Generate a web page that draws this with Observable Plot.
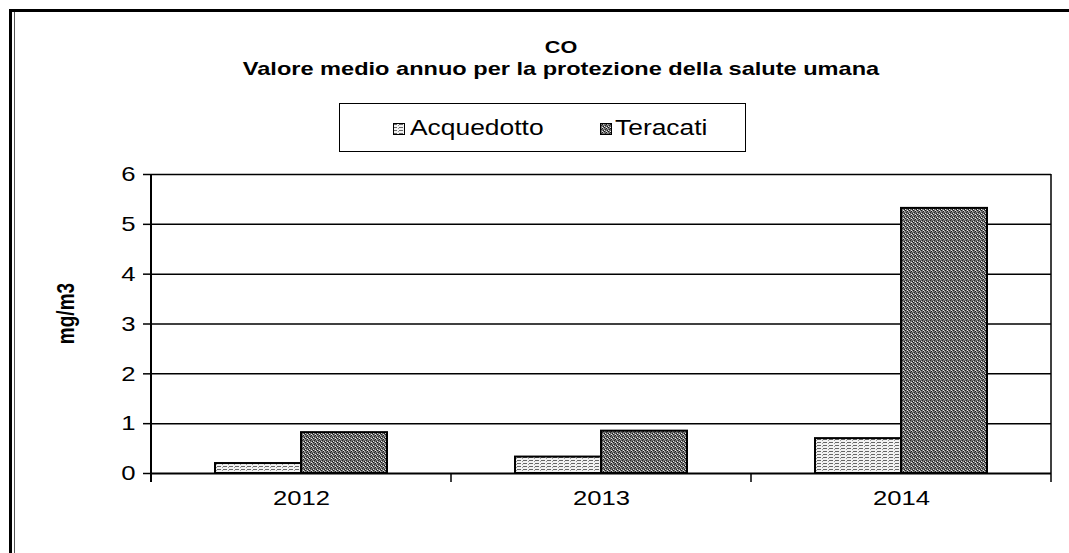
<!DOCTYPE html>
<html><head><meta charset="utf-8">
<script src="https://cdn.jsdelivr.net/npm/d3@7"></script>
<script src="https://cdn.jsdelivr.net/npm/@observablehq/plot@0.6"></script>
<style>
body{margin:0;background:#fff;}
#wrap{position:relative;width:1069px;height:553px;overflow:hidden;font-family:"Liberation Sans",Arial,sans-serif;color:#000;background:#fff;}
.t{position:absolute;white-space:nowrap;line-height:1;}
.c{left:0;width:1122px;text-align:center;transform-origin:50% 0;}
#legend{position:absolute;left:339px;top:103px;width:405px;height:47px;border:1.5px solid #000;background:#fff;}
.sw{position:absolute;top:19px;width:12px;height:12px;}
.lt{position:absolute;top:13px;font-size:22px;line-height:1;white-space:nowrap;transform:scaleX(1.2);transform-origin:0 0;}
#chart{position:absolute;left:0;top:150px;}
</style></head><body>
<div id="wrap">
  <svg width="0" height="0" style="position:absolute">
    <defs>
      <pattern id="patT" width="4" height="4" patternUnits="userSpaceOnUse">
        <rect width="4" height="4" fill="#707070"/>
        <rect x="0" y="0" width="1" height="1" fill="#1a1a1a"/>
        <rect x="2" y="1" width="1" height="1" fill="#1a1a1a"/>
        <rect x="1" y="2" width="1" height="1" fill="#2a2a2a"/>
        <rect x="3" y="3" width="1" height="1" fill="#1a1a1a"/>
        <rect x="2" y="0" width="1" height="1" fill="#eaeaea"/>
        <rect x="0" y="3" width="1" height="1" fill="#e2e2e2"/>
        <rect x="3" y="1" width="1" height="1" fill="#b8b8b8"/>
      </pattern>
      <pattern id="patA" width="6" height="3" patternUnits="userSpaceOnUse">
        <rect width="6" height="3" fill="#f2f2f2"/>
        <rect x="0" y="1" width="4" height="1" fill="#666"/>
        <rect x="5" y="2" width="1" height="1" fill="#999"/>
      </pattern>
    </defs>
  </svg>
  <div style="position:absolute;left:9px;top:9px;width:1060px;height:3px;background:#000"></div>
  <div style="position:absolute;left:9px;top:9px;width:3px;height:544px;background:#000"></div>
  <div style="position:absolute;left:14px;top:12px;width:1px;height:541px;background:#555"></div>
  <div class="t c" id="title" style="top:40px;font-size:16px;font-weight:bold;transform:scaleX(1.35);">CO</div>
  <div class="t c" id="subtitle" style="top:59px;font-size:19px;font-weight:bold;transform:scaleX(1.24);">Valore medio annuo per la protezione della salute umana</div>
  <div id="legend"></div>
  <div class="t" id="ylabel" style="left:66px;top:304px;font-size:19px;font-weight:bold;transform:translate(-50%,0) rotate(-90deg) scale(1,1.28);transform-origin:50% 50%;">mg/m3</div>
  <div id="chart"></div>
</div>
<script>
// ---- data ----
const years = ["2012", "2013", "2014"];
const seriesNames = ["Acquedotto", "Teracati"];
const acquedotto = [0.2, 0.33, 0.7];
const teracati = [0.82, 0.85, 5.32];
const yTicks = [0, 1, 2, 3, 4, 5, 6];
const fills = {Acquedotto: "url(#patA)", Teracati: "url(#patT)"};

const rows = [];
years.forEach((yr, i) => {
  rows.push({year: yr, series: "Acquedotto", value: acquedotto[i]});
  rows.push({year: yr, series: "Teracati", value: teracati[i]});
});

// legend
const legend = document.getElementById("legend");
const legendPos = [{sw: 53, tx: 70}, {sw: 260, tx: 275}];
seriesNames.forEach((s, i) => {
  const sw = document.createElementNS("http://www.w3.org/2000/svg", "svg");
  sw.setAttribute("class", "sw");
  sw.setAttribute("width", 12); sw.setAttribute("height", 12);
  sw.style.left = legendPos[i].sw + "px";
  sw.innerHTML = `<rect x="0.5" y="0.5" width="11" height="11" fill="${fills[s]}" stroke="#000" stroke-width="1"/>`;
  legend.appendChild(sw);
  const t = document.createElement("div");
  t.className = "lt";
  t.style.left = legendPos[i].tx + "px";
  t.textContent = s;
  legend.appendChild(t);
});

const H = 403;
const plot = Plot.plot({
  width: 1069,
  height: H,
  marginTop: 24,
  marginBottom: 80,
  marginLeft: 150,
  marginRight: 17,
  style: {fontFamily: '"Liberation Sans", Arial, sans-serif', fontSize: "21px", color: "#000", background: "transparent"},
  fx: {domain: years, padding: 0, label: null},
  x: {domain: seriesNames, paddingInner: 0, paddingOuter: 0.74, axis: null},
  y: {domain: [0, 6], label: null},
  marks: [
    Plot.ruleY(yTicks.filter(d => d > 0), {stroke: "#000", strokeWidth: 1.5}),
    Plot.barY(rows.filter(d => d.series === "Acquedotto"), {fx: "year", x: "series", y: "value", fill: fills.Acquedotto, stroke: "#000", strokeWidth: 2}),
    Plot.barY(rows.filter(d => d.series === "Teracati"), {fx: "year", x: "series", y: "value", fill: fills.Teracati, stroke: "#000", strokeWidth: 2}),
    Plot.ruleY([0], {stroke: "#000", strokeWidth: 2}),
    Plot.axisY({ticks: yTicks, tickSize: 8, tickPadding: 8, strokeWidth: 1.5, label: null, tickFormat: d3.format("d")}),
    Plot.axisFx({anchor: "bottom", tickSize: 0, tickPadding: 17, label: null})
  ]
});
document.getElementById("chart").appendChild(plot);

const svgEl = plot.tagName.toLowerCase() === "svg" ? plot : plot.querySelector("svg");
// horizontally widen axis text to match the reference's proportions
svgEl.querySelectorAll("text").forEach(t => {
  const len = t.getComputedTextLength();
  if (len > 0) {
    t.setAttribute("textLength", (len * 1.22).toFixed(1));
    t.setAttribute("lengthAdjust", "spacingAndGlyphs");
  }
});

// vertical frame lines and category-boundary ticks from the fx/y scales
const fx = plot.scale("fx");
const ys = plot.scale("y");
const bounds = fx.domain.map(d => fx.apply(d));
bounds.push(fx.apply(fx.domain[fx.domain.length - 1]) + fx.bandwidth);
const svg = d3.select(svgEl);
const y0 = ys.apply(0), yTop = ys.apply(6);
bounds.forEach((b, i) => {
  const outer = i === 0 || i === bounds.length - 1;
  svg.append("line")
    .attr("x1", b).attr("x2", b)
    .attr("y1", outer ? yTop : y0).attr("y2", y0 + 9)
    .attr("stroke", "#000").attr("stroke-width", i === 0 ? 2 : 1.5);
});
</script>
</body></html>
